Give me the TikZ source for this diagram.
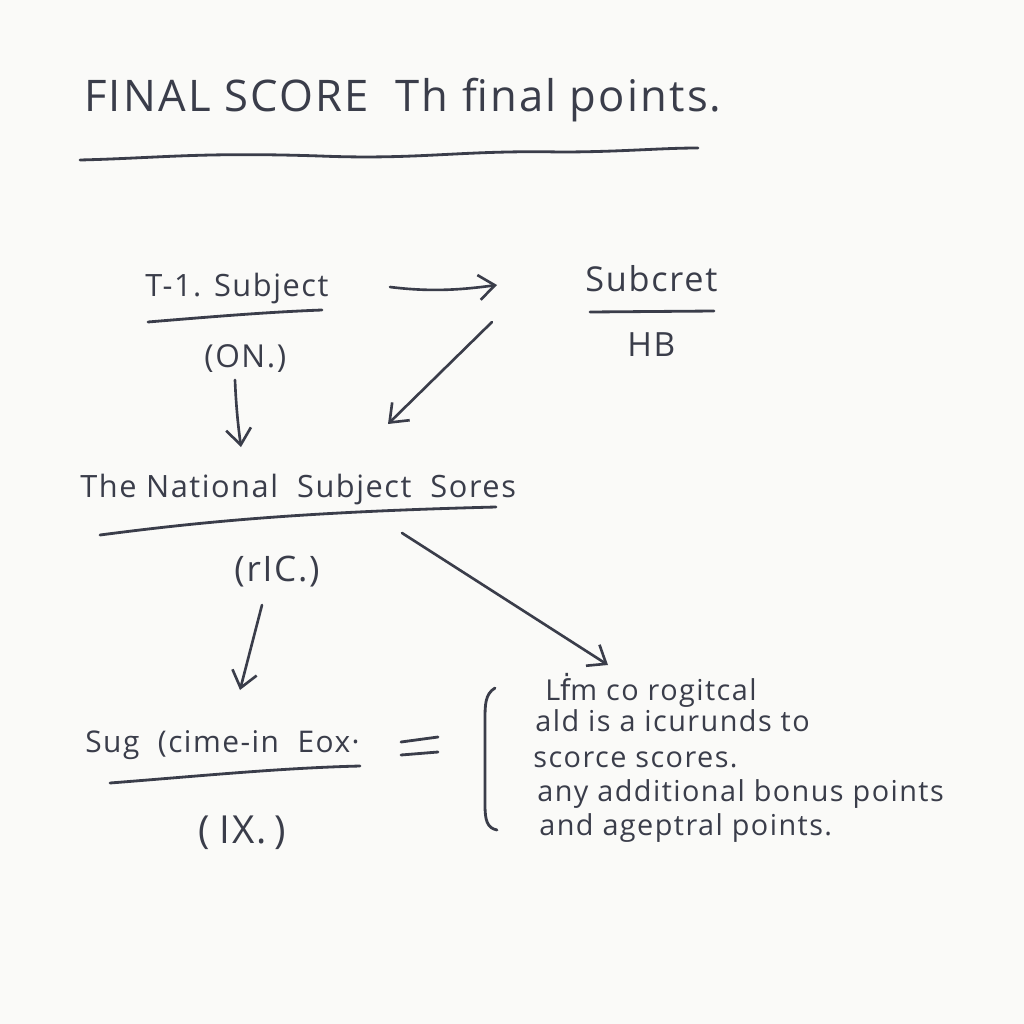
\documentclass[tikz,border=0pt]{standalone}
\usepackage{fontspec}
\setmainfont{Open Sans}[LetterSpace=5]
\newfontfamily\dvfont{DejaVu Sans}[LetterSpace=5]
\usetikzlibrary{arrows.meta}
\definecolor{ink}{HTML}{3A3D4A}
\definecolor{paper}{HTML}{FAFAF8}
\tikzset{
  hand/.style={text=ink, inner sep=0pt, anchor=base west},
  uline/.style={draw=ink, line width=1.6pt, line cap=round},
  arr/.style={draw=ink, line width=1.5pt, line cap=round, -{Straight Barb[length=3.2mm,width=5mm,line width=1.5pt]}},
}
\begin{document}
\begin{tikzpicture}[x=0.02cm,y=-0.02cm]
\fill[paper] (0,0) rectangle (1024,1024);
\useasboundingbox (0,0) rectangle (1024,1024);
% title
\node[hand, font=\fontsize{24.8}{28}\selectfont] (title) at (84,112) {FINAL SCORE\ \ Th final points.};
\draw[uline] (80,160) .. controls (160,158) and (200,152) .. (320,156) .. controls (420,160) and (460,150) .. (560,152) .. controls (620,152) and (660,148) .. (698,148);
% T-1 subject
\node[hand, font=\fontsize{17.5}{22}\selectfont] (t1) at (145,296) {T-1. Subject};
\draw[uline] (148,322) .. controls (220,316) and (270,312) .. (322,310);
\node[hand, font=\fontsize{18}{22}\selectfont] (on) at (204,367) {(ON.)};
% Subcret
\node[hand, font=\fontsize{19.5}{22}\selectfont] (sub) at (585,291) {Subcret};
\draw[uline] (590,312) -- (714,311);
\node[hand, font=\fontsize{19}{22}\selectfont] (hb) at (627,356) {HB};
% national
\node[hand, font=\fontsize{17.5}{22}\selectfont] (nat) at (80,497) {The National\ \ Subject\ \ Sores};
\draw[uline] (100,535) .. controls (200,522) and (300,512) .. (496,507);
\node[hand, font=\fontsize{20}{22}\selectfont] (ric) at (234,581) {(rIC.)};
% Sug
\node[hand, font=\fontsize{17}{22}\selectfont] (sug) at (85,752) {Sug\ \ (cime-in\ \ Eox·};
\draw[uline] (110,783) .. controls (200,776) and (280,768) .. (360,766);
\node[hand, font=\fontsize{22}{24}\selectfont] (ix) at (198,843) {(\hspace{0.25em}IX.\hspace{0.2em})};
% equals
\node (eq) at (420,746) {};
\draw[uline] (401,742) -- (438,737);
\draw[uline] (401,755) -- (438,752);
% bracket
\draw[uline] (495,688) .. controls (485,694) and (485,705) .. (485,720) -- (485,805) .. controls (485,820) and (487,828) .. (497,830);
% text block
\node[hand, font=\fontsize{16.4}{18}\selectfont] (l1) at (545,700) {L{\dvfont ḟ}m co rogitcal};
\node[hand, font=\fontsize{16.4}{18}\selectfont] (l2) at (535,731) {ald is a icurunds to};
\node[hand, font=\fontsize{16.4}{18}\selectfont] (l3) at (533,767) {scorce scores.};
\node[hand, font=\fontsize{16.4}{18}\selectfont] (l4) at (537,801) {any additional bonus points};
\node[hand, font=\fontsize{16.4}{18}\selectfont] (l5) at (539,835) {and ageptral points.};
% arrow endpoints
\coordinate (a1s) at (390,287); \coordinate (a1e) at (497,285);
\coordinate (a2s) at (492,322); \coordinate (a2e) at (388,424);
\coordinate (a3s) at (235,380); \coordinate (a3e) at (241,447);
\coordinate (a4s) at (262,605); \coordinate (a4e) at (240,690);
\coordinate (a5s) at (402,533); \coordinate (a5e) at (608,665);
\draw[arr] (a1s) .. controls (430,292) and (460,290) .. (a1e);
\draw[arr] (a2s) -- (a2e);
\draw[arr] (a3s) .. controls (236,405) and (238,425) .. (a3e);
\draw[arr] (a4s) -- (a4e);
\draw[arr] (a5s) -- (a5e);
\end{tikzpicture}
\end{document}
